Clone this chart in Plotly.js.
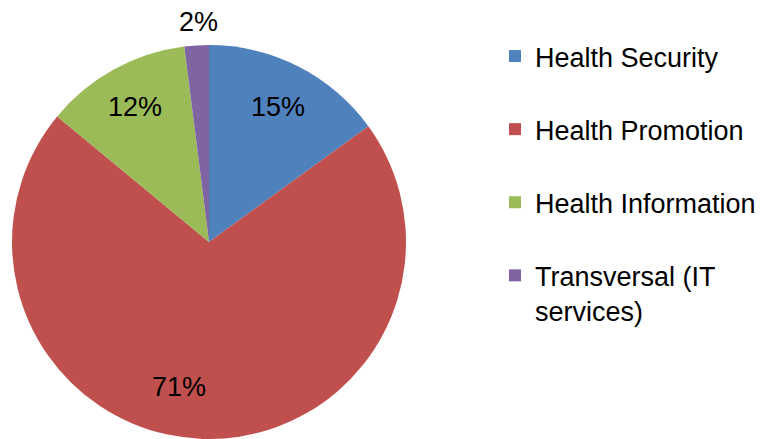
<!DOCTYPE html>
<html>
<head>
<meta charset="utf-8">
<script src="https://cdn.plot.ly/plotly-3.0.1.min.js"></script>
<style>html,body{margin:0;padding:0;background:#fff;}#chart{width:770px;height:439px;}</style>
</head>
<body>
<div id="chart"></div>
<script>
const categories = ["Health Security", "Health Promotion", "Health Information", "Transversal (IT<br>services)"];
const shares = [15, 71, 12, 2];
const colors = ["#4F81BD", "#C0504D", "#9BBB59", "#8064A2"];

// label placement style (fraction of radius, angle shift in degrees)
const labelRadius = [0.77, 0.75, 0.78, 1.12];
const labelAngleShift = [0, 10, 0, 1];

const FONT = "Liberation Sans, Arial, sans-serif";
const W = 770, H = 439;
const dom = {x: [12/W, 406/W], y: [0, 1 - 45/H]};

const pie = {
  type: "pie",
  labels: categories,
  values: shares,
  sort: false,
  direction: "clockwise",
  rotation: 0,
  marker: {colors: colors, line: {width: 0}},
  textinfo: "none",
  showlegend: false,
  hoverinfo: "label+percent",
  domain: dom
};

// compute label positions from the data
const total = shares.reduce((a, b) => a + b, 0);
const R = Math.min((dom.x[1] - dom.x[0]) * W, (dom.y[1] - dom.y[0]) * H) / 2;
const cxPx = (dom.x[0] + dom.x[1]) / 2 * W;
const cyPx = (dom.y[0] + dom.y[1]) / 2 * H; // from bottom
let cum = 0;
const annotations = shares.map((v, i) => {
  const mid = (cum + v / 2) / total * 360 + labelAngleShift[i];
  cum += v;
  const th = mid * Math.PI / 180;
  const r = R * labelRadius[i];
  return {
    xref: "paper", yref: "paper",
    x: (cxPx + r * Math.sin(th)) / W,
    y: (cyPx + r * Math.cos(th)) / H,
    text: Math.round(v / total * 100) + "%",
    showarrow: false,
    xanchor: "center", yanchor: "middle",
    font: {family: FONT, size: 27, color: "#000"}
  };
});

const legendTraces = categories.map((c, i) => ({
  type: "scatter",
  mode: "markers",
  x: [null], y: [null],
  name: c,
  legendgroup: "g" + i,
  marker: {symbol: "square", size: 12, color: colors[i]},
  showlegend: true,
  hoverinfo: "skip"
}));

const layout = {
  width: W, height: H,
  margin: {l: 0, r: 0, t: 0, b: 0},
  paper_bgcolor: "#fff",
  plot_bgcolor: "#fff",
  xaxis: {visible: false},
  yaxis: {visible: false},
  showlegend: true,
  legend: {
    x: 495/W, xanchor: "left",
    y: 1 - 32/H, yanchor: "top",
    font: {family: FONT, size: 27, color: "#000"},
    tracegroupgap: 35,
    traceorder: "grouped",
    valign: "top",
    bgcolor: "rgba(0,0,0,0)"
  },
  annotations: annotations,
  font: {family: FONT}
};

Plotly.newPlot("chart", [pie].concat(legendTraces), layout, {displayModeBar: false, staticPlot: true});
</script>
</body>
</html>
